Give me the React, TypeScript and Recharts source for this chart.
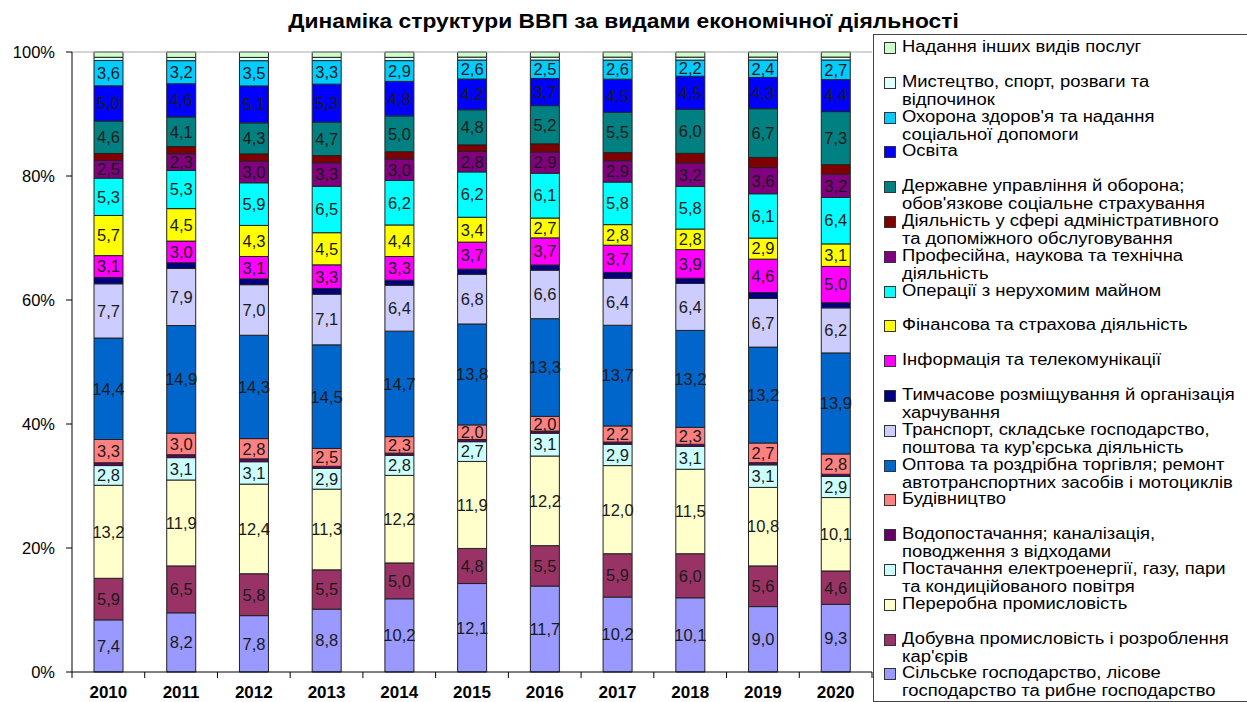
import React from "react";
import { BarChart, Bar, XAxis, YAxis, LabelList, ReferenceLine } from "recharts";

const FONT = '"Liberation Sans", Arial, sans-serif';

const years = ["2010", "2011", "2012", "2013", "2014", "2015", "2016", "2017", "2018", "2019", "2020"];

// bottom -> top
const agriculture = [7.4, 8.2, 7.8, 8.8, 10.2, 12.1, 11.7, 10.2, 10.1, 9.0, 9.3];
const mining = [5.9, 6.5, 5.8, 5.5, 5.0, 4.8, 5.5, 5.9, 6.0, 5.6, 4.6];
const manufacturing = [13.2, 11.9, 12.4, 11.3, 12.2, 11.9, 12.2, 12.0, 11.5, 10.8, 10.1];
const electricity = [2.8, 3.1, 3.1, 2.9, 2.8, 2.7, 3.1, 2.9, 3.1, 3.1, 2.9];
const water = [0.4, 0.4, 0.4, 0.3, 0.3, 0.3, 0.3, 0.3, 0.3, 0.3, 0.3];
const construction = [3.3, 3.0, 2.8, 2.5, 2.3, 2.0, 2.0, 2.2, 2.3, 2.7, 2.8];
const trade = [14.4, 14.9, 14.3, 14.5, 14.7, 13.8, 13.3, 13.7, 13.2, 13.2, 13.9];
const transport = [7.7, 7.9, 7.0, 7.1, 6.4, 6.8, 6.6, 6.4, 6.4, 6.7, 6.2];
const accommodation = [0.9, 0.8, 0.8, 0.8, 0.7, 0.7, 0.7, 0.8, 0.7, 0.8, 0.7];
const information = [3.1, 3.0, 3.1, 3.3, 3.3, 3.7, 3.7, 3.7, 3.9, 4.6, 5.0];
const finance = [5.7, 4.5, 4.3, 4.5, 4.4, 3.4, 2.7, 2.8, 2.8, 2.9, 3.1];
const realEstate = [5.3, 5.3, 5.9, 6.5, 6.2, 6.2, 6.1, 5.8, 5.8, 6.1, 6.4];
const professional = [2.5, 2.3, 3.0, 3.3, 3.0, 2.8, 2.9, 2.9, 3.2, 3.6, 3.2];
const administrative = [1.0, 1.0, 1.0, 1.0, 1.0, 0.9, 1.1, 1.1, 1.3, 1.4, 1.3];
const publicAdmin = [4.6, 4.1, 4.3, 4.7, 5.0, 4.8, 5.2, 5.5, 6.0, 6.7, 7.3];
const education = [5.0, 4.6, 5.1, 5.3, 4.8, 4.2, 3.7, 4.5, 4.5, 4.3, 4.4];
const health = [3.6, 3.2, 3.5, 3.3, 2.9, 2.6, 2.5, 2.6, 2.2, 2.4, 2.7];
const arts = [0.45, 0.45, 0.45, 0.45, 0.45, 0.4, 0.4, 0.4, 0.4, 0.4, 0.4];
const otherServices = [0.75, 0.75, 0.75, 0.75, 0.75, 0.7, 0.7, 0.7, 0.7, 0.7, 0.7];

const yTicks = [0, 0.2, 0.4, 0.6, 0.8, 1];

const SERIES = [
  { key: "agriculture", values: agriculture, color: "#9999FF", labeled: true, name: "Сільське господарство, лісове\nгосподарство та рибне господарство" },
  { key: "mining", values: mining, color: "#993366", labeled: true, name: "Добувна промисловість і розроблення\nкар'єрів" },
  { key: "manufacturing", values: manufacturing, color: "#FFFFCC", labeled: true, name: "Переробна промисловість" },
  { key: "electricity", values: electricity, color: "#CCFFFF", labeled: true, name: "Постачання електроенергії, газу, пари\nта кондиційованого повітря" },
  { key: "water", values: water, color: "#660066", labeled: false, name: "Водопостачання; каналізація,\nповодження з відходами" },
  { key: "construction", values: construction, color: "#FF8080", labeled: true, name: "Будівництво" },
  { key: "trade", values: trade, color: "#0066CC", labeled: true, name: "Оптова та роздрібна торгівля; ремонт\nавтотранспортних засобів і мотоциклів" },
  { key: "transport", values: transport, color: "#CCCCFF", labeled: true, name: "Транспорт, складське господарство,\nпоштова та кур'єрська діяльність" },
  { key: "accommodation", values: accommodation, color: "#000080", labeled: false, name: "Тимчасове розміщування й організація\nхарчування" },
  { key: "information", values: information, color: "#FF00FF", labeled: true, name: "Інформація та телекомунікації" },
  { key: "finance", values: finance, color: "#FFFF00", labeled: true, name: "Фінансова та страхова діяльність" },
  { key: "realEstate", values: realEstate, color: "#00FFFF", labeled: true, name: "Операції з нерухомим майном" },
  { key: "professional", values: professional, color: "#800080", labeled: true, name: "Професійна, наукова та технічна\nдіяльність" },
  { key: "administrative", values: administrative, color: "#800000", labeled: false, name: "Діяльність у сфері адміністративного\nта допоміжного обслуговування" },
  { key: "publicAdmin", values: publicAdmin, color: "#008080", labeled: true, name: "Державне управління й оборона;\nобов'язкове соціальне страхування" },
  { key: "education", values: education, color: "#0000FF", labeled: true, name: "Освіта" },
  { key: "health", values: health, color: "#00CCFF", labeled: true, name: "Охорона здоров'я та надання\nсоціальної допомоги" },
  { key: "arts", values: arts, color: "#E0FFFF", labeled: false, name: "Мистецтво, спорт, розваги та\nвідпочинок" },
  { key: "otherServices", values: otherServices, color: "#CCFFCC", labeled: false, name: "Надання інших видів послуг" },
];

const data = years.map((year, i) => {
  const row: Record<string, number | string> = { year };
  SERIES.forEach((s) => {
    row[s.key] = s.values[i];
  });
  return row;
});

const CHART_W = 873;
const CHART_H = 702;
const Y_AXIS_W = 72;
const BAND = (CHART_W - 1 - Y_AXIS_W) / years.length;

const fmt = (v: any) => Number(v).toFixed(1).replace(".", ",");

const XTick = (props: any) => {
  const { x, y, payload, index } = props;
  const axisY = y - 14;
  const half = BAND / 2;
  return (
    <g>
      <line x1={x - half} x2={x - half} y1={axisY} y2={axisY + 6} stroke="#000" />
      {index === years.length - 1 && (
        <line x1={x + half} x2={x + half} y1={axisY} y2={axisY + 6} stroke="#000" />
      )}
      <text x={x} y={y} dy="0.71em" textAnchor="middle" fontWeight="bold" fontSize={17} fill="#000" fontFamily={FONT}>
        {payload.value}
      </text>
    </g>
  );
};

const Legend = () => {
  const items = [...SERIES].reverse();
  return (
    <div
      style={{
        position: "absolute",
        left: 873,
        top: 34,
        width: 380,
        height: 668,
        border: "1px solid #444",
        boxSizing: "border-box",
      }}
    >
      {items.map((s, i) => {
        const cy = 12 + i * 34.8;
        return (
          <div key={s.key}>
            <div
              style={{
                position: "absolute",
                left: 10,
                top: cy - 5,
                width: 10,
                height: 10,
                background: s.color,
                border: "1px solid #333",
              }}
            />
            <div
              style={{
                position: "absolute",
                left: 28,
                top: cy - 9,
                fontFamily: FONT,
                fontSize: 16,
                lineHeight: "18px",
                whiteSpace: "pre",
                color: "#000",
                transform: "scaleX(1.15)",
                transformOrigin: "left center",
              }}
            >
              {s.name}
            </div>
          </div>
        );
      })}
    </div>
  );
};

export default function App() {
  return (
    <div style={{ position: "absolute", left: 0, top: 0, width: 1247, height: 702, background: "#fff", overflow: "hidden" }}>
      <div
        style={{
          position: "absolute",
          left: 0,
          width: 1247,
          top: 10,
          textAlign: "center",
          fontFamily: FONT,
          fontWeight: "bold",
          fontSize: 20,
          color: "#000",
          transform: "scaleX(1.14)",
          transformOrigin: "center",
        }}
      >
        Динаміка структури ВВП за видами економічної діяльності
      </div>
      <div style={{ position: "absolute", left: 0, top: 0 }}>
        <BarChart
          width={CHART_W}
          height={CHART_H}
          data={data}
          stackOffset="expand"
          margin={{ top: 52, right: 1, left: 0, bottom: 0 }}
          barSize={29}
        >
          <XAxis
            dataKey="year"
            height={30}
            axisLine={{ stroke: "#000" }}
            tickLine={false}
            tickSize={6}
            tickMargin={8}
            interval={0}
            tick={<XTick />}
          />
          <YAxis
            width={Y_AXIS_W}
            domain={[0, 1]}
            ticks={yTicks}
            tickFormatter={(v: number) => `${Math.round(v * 100)}%`}
            axisLine={{ stroke: "#000" }}
            tickLine={{ stroke: "#000" }}
            tickSize={6}
            tickMargin={11}
            tick={{ fontSize: 16.5, fill: "#000", fontFamily: FONT }}
          />
          <ReferenceLine y={1} stroke="#aaa" />
          {SERIES.map((s) => (
            <Bar
              key={s.key}
              dataKey={s.key}
              stackId="a"
              fill={s.color}
              stroke="#222"
              strokeWidth={1}
              isAnimationActive={false}
            >
              {s.labeled && (
                <LabelList
                  dataKey={s.key}
                  position="center"
                  formatter={fmt}
                  fill="#1a1a1a"
                  fontSize={16.5}
                  fontFamily={FONT}
                />
              )}
            </Bar>
          ))}
        </BarChart>
      </div>
      <Legend />
    </div>
  );
}
